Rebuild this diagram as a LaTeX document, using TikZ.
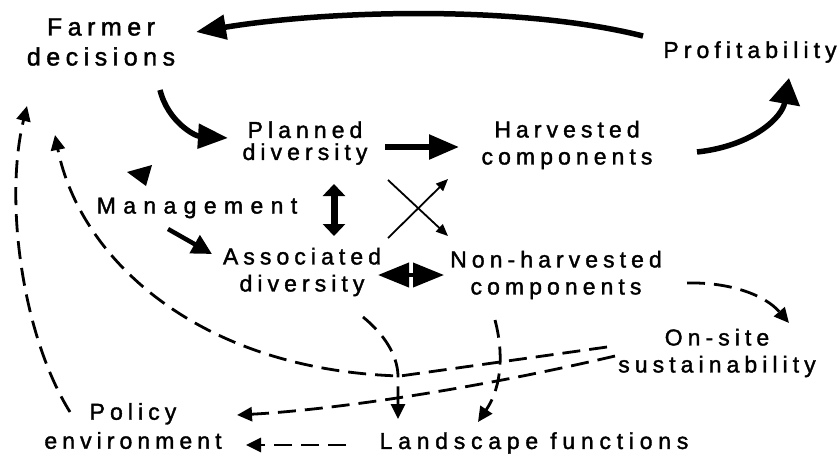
\documentclass[tikz,border=0pt]{standalone}
\usepackage{fontspec}
\newfontfamily\lbl[LetterSpace=22,FakeBold=1.6]{Liberation Sans}
\usetikzlibrary{arrows.meta}
\begin{document}
\begin{tikzpicture}[x=1pt,y=-1pt,
  lab/.style={inner sep=0pt,align=center,font=\lbl\fontsize{23}{27}\selectfont},
  thick arrow/.style={line width=5.5pt,-{Triangle[length=30pt,width=24pt]}},
  thin arrow/.style={line width=1.8pt,-{Triangle[length=12pt,width=10pt]}},
  dash arrow/.style={line width=2.8pt,dash pattern=on 18pt off 9pt,-{Triangle[length=15pt,width=14pt]}}]
\useasboundingbox (0,0) rectangle (840,459);

% labels
\node[lab,font=\lbl\fontsize{25}{30}\selectfont] (farmer) at (101,42) {Farmer\\decisions};
\node[lab] (profit) at (750,52) {Profitability};
\node[lab,font=\lbl\fontsize{23}{22}\selectfont] (planned) at (305,143) {Planned\\diversity};
\node[lab] (harvested) at (567,145) {Harvested\\components};
\node[lab,font=\lbl\addfontfeatures{LetterSpace=32}\fontsize{23}{27}\selectfont] (mgmt) at (197,208) {Management};
\node[lab] (assoc) at (302,272) {Associated\\diversity};
\node[lab] (nonharv) at (556,275) {Non-harvested\\components};
\node[lab] (onsite) at (717,353) {On-site\\sustainability};
\node[lab,font=\lbl\fontsize{23}{29}\selectfont] (policy) at (133,426) {Policy\\environment};
\node[lab,font=\lbl\addfontfeatures{LetterSpace=25}\fontsize{23}{27}\selectfont] (landscape) at (534,443) {Landscape functions};

% solid flows
\draw[thick arrow] ([shift={(-107,-16)}]profit.center)
  .. controls (520,5) and (330,10) .. ([shift={(95,-10)}]farmer.center);
\draw[thick arrow] ([shift={(59,48)}]farmer.center)
  .. controls (168,122) and (195,136) .. ([shift={(-77,-5)}]planned.center);
\draw[thick arrow] ([shift={(80,4)}]planned.center) -- ([shift={(-108,2)}]harvested.center);
\draw[thick arrow,-{Triangle[length=26pt,width=30pt]}] ([shift={(130,7)}]harvested.center)
  .. controls (752,146) and (782,118) .. ([shift={(39,26)}]profit.center);
\draw[line width=4.5pt,-{Triangle[length=20pt,width=20pt]}]
  ([shift={(-29,21)}]mgmt.center) -- ([shift={(-90,-18)}]assoc.center);
\fill (127,172) -- (152,165) -- (146,186) -- cycle;
\draw[line width=7pt,{Triangle[length=12pt,width=22pt]}-{Triangle[length=12pt,width=22pt]}]
  ([shift={(29,41)}]planned.center) -- ([shift={(32,-36)}]assoc.center);
\draw[line width=4pt,{Triangle[length=31pt,width=24pt]}-{Triangle[length=31pt,width=24pt]}]
  ([shift={(76,3)}]assoc.center) -- ([shift={(-112,0)}]nonharv.center);
\draw[thin arrow] ([shift={(83,37)}]planned.center) -- ([shift={(-108,-39)}]nonharv.center);
\draw[thin arrow] ([shift={(86,-34)}]assoc.center) -- ([shift={(-119,34)}]harvested.center);

% dashed flows
\draw[dash arrow] ([shift={(-63,-14)}]policy.center)
  .. controls (22,335) and (4,200) .. ([shift={(-74,64)}]farmer.center);
\draw[dash arrow] ([shift={(-110,-6)}]onsite.center) -- (400,376)
  .. controls (200,370) and (80,260) .. ([shift={(-46,93)}]farmer.center);
\draw[dash arrow] ([shift={(-102,3)}]onsite.center)
  .. controls (470,390) and (330,410) .. ([shift={(104,-11)}]policy.center);
\draw[dash arrow] ([shift={(61,45)}]assoc.center)
  .. controls (385,335) and (397,355) .. (398,375) -- ([shift={(-136,-24)}]landscape.center);
\draw[dash arrow] ([shift={(-61,45)}]nonharv.center)
  .. controls (503,350) and (503,385) .. ([shift={(-56,-21)}]landscape.center);
\draw[dash arrow] ([shift={(131,8)}]nonharv.center)
  .. controls (730,282) and (765,295) .. ([shift={(72,-30)}]onsite.center);
\draw[dash arrow] ([shift={(-188,2)}]landscape.center) -- ([shift={(113,19)}]policy.center);
\end{tikzpicture}
\end{document}
